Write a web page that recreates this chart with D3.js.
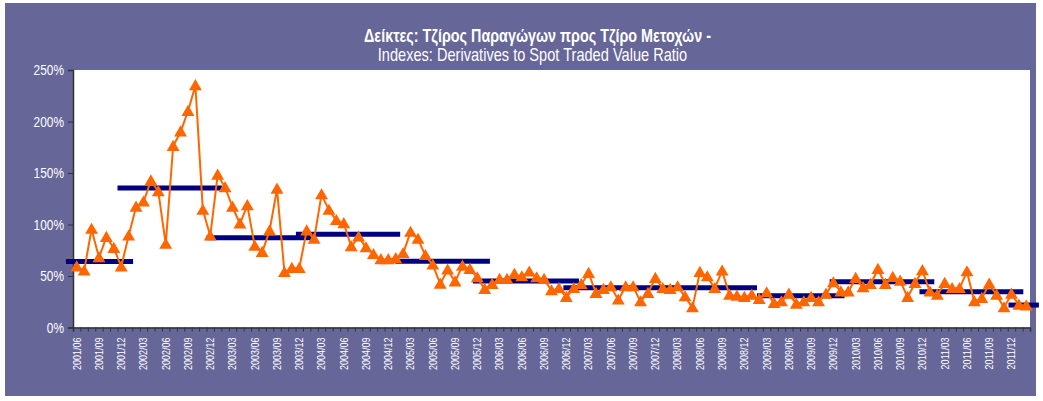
<!DOCTYPE html>
<html>
<head>
<meta charset="utf-8">
<script src="https://cdn.jsdelivr.net/npm/d3@7/dist/d3.min.js"></script>
<style>
  body { margin: 0; background: #fff; }
  svg { display: block; }
</style>
</head>
<body>
<svg id="chart" width="1043" height="401"></svg>
<script>
// monthly ratio, 2001/06 .. 2012/02 (%)
const ratio = [
  59, 55, 95.5, 68, 87.7, 77, 59, 89, 117, 122, 142.5, 132,
  81, 176, 190, 210, 235, 114, 89, 148, 136, 117, 100.7, 118.5,
  79, 73, 94, 134.5, 53.5, 57.6, 57.6, 94, 85.8, 129, 114, 104,
  101, 78.6, 88, 77.6, 71, 66, 66, 67, 72, 92.6, 85.8, 70,
  60.8, 42.3, 56, 44.5, 59.8, 56.6, 48.4, 37.2, 42, 46.9, 46.9, 51.8,
  49.4, 54, 48.4, 46.9, 35.8, 38, 29.4, 38, 42, 52.7, 33.3, 37.2,
  39.7, 26.8, 39.7, 39.7, 25.1, 33.3, 47.9, 38, 37.2, 39.7, 30, 19.3,
  53.6, 49.4, 38, 55, 31.6, 30.6, 29.4, 31.6, 27.4, 33.9, 23.5, 25.1,
  32.5, 22.9, 25.1, 29.4, 25.1, 32.5, 43.6, 34.8, 34.8, 47.9, 38.8, 42,
  56.6, 42, 48.8, 45.2, 29.4, 43, 55.3, 34.8, 31.6, 43, 38, 38,
  54.3, 25.1, 28.4, 42.3, 31.6, 19.3, 32.5, 21.9, 21.2
];

// period averages: start / end in month positions, value in %
const avgStart = [-1.45, 5.5, 17.5, 29.55, 42.95, 53.4, 65.6, 91.7, 101.5, 113.6, 125.6];
const avgEnd   = [7.6, 19.57, 31.7, 43.6, 55.7, 67.7, 91.7, 103.5, 115.6, 127.6, 129.7];
const avgValue = [64, 135.4, 87.2, 90.5, 64.3, 45.2, 38.7, 30.9, 44.3, 34.8, 21.8];

const yTicks = [0, 50, 100, 150, 200, 250];
const titleGr = "Δείκτες: Τζίρος Παραγώγων προς Τζίρο Μετοχών -";
const titleEn = "Indexes: Derivatives to Spot Traded Value Ratio";

const fmtMonth = d3.timeFormat("%Y/%m");
const months = d3.timeMonth.range(new Date(2001, 5, 1), new Date(2012, 2, 1)).map(fmtMonth);

// pick a condensed font if one exists
function hasFont(name) {
  const c = document.createElement("canvas").getContext("2d");
  const s = "2001/06 Indexes abcdefg";
  c.font = "20px monospace";
  const w0 = c.measureText(s).width;
  c.font = `20px "${name}", monospace`;
  return c.measureText(s).width !== w0;
}
const narrow = hasFont("Liberation Sans Narrow");
const fam = narrow ? '"Liberation Sans Narrow", "Arial Narrow", sans-serif' : '"Liberation Sans", Arial, sans-serif';
const squeeze = narrow ? 1 : 0.82;

const W = 1043, H = 401;
const pL = 73, pR = 1030, pT = 70, pB = 327.5;

const svg = d3.select("#chart");
svg.append("rect").attr("x", 5).attr("y", 3).attr("width", 1031).attr("height", 393).attr("fill", "#666699");
svg.append("rect").attr("x", pL).attr("y", pT).attr("width", pR - pL).attr("height", pB - pT).attr("fill", "#fff");

const x = d3.scaleBand().domain(d3.range(ratio.length)).range([pL, pR]).padding(0);
const bw = x.bandwidth();
const xm = d3.scaleLinear().domain([0, ratio.length - 1]).range([x(0) + bw / 2, x(ratio.length - 1) + bw / 2]);
const xb = d3.scaleLinear().domain([0, ratio.length]).range([pL, pR]);
const y = d3.scaleLinear().domain([0, 250]).range([pB, pT]);

// titles
function squeezeText(sel, cx) {
  if (squeeze !== 1) sel.attr("transform", `translate(${cx},0) scale(${squeeze},1) translate(${-cx},0)`);
}
svg.append("text").attr("x", W / 2 + 16).attr("y", 42).attr("text-anchor", "middle")
  .attr("fill", "#fff").attr("font-family", fam).attr("font-size", 17.5).attr("font-weight", "bold")
  .text(titleGr).call(squeezeText, W / 2 + 16);
svg.append("text").attr("x", W / 2 + 11).attr("y", 61).attr("text-anchor", "middle")
  .attr("fill", "#fff").attr("font-family", fam).attr("font-size", 17.8)
  .text(titleEn).call(squeezeText, W / 2 + 11);

// y axis
const gy = svg.append("g").attr("transform", `translate(${pL},0)`)
  .call(d3.axisLeft(y).tickValues(yTicks).tickSize(5).tickFormat(d => d + "%"));
gy.select(".domain").attr("stroke", "#333").attr("stroke-width", 1.5);
gy.selectAll(".tick line").attr("stroke", "#333");
gy.selectAll(".tick text").attr("fill", "#fff").attr("font-family", fam).attr("font-size", 14.5)
  .attr("x", -9)
  .each(function () {
    if (squeeze !== 1) {
      d3.select(this).attr("transform", `translate(-9,0) scale(${squeeze},1) translate(9,0)`);
    }
  });

// x axis tick marks at month boundaries
const gx = svg.append("g").attr("transform", `translate(0,${pB})`)
  .call(d3.axisBottom(xb).tickValues(d3.range(ratio.length + 1)).tickSize(4).tickFormat(""));
gx.select(".domain").attr("stroke", "#333").attr("stroke-width", 1.5);
gx.selectAll(".tick line").attr("stroke", "#333");

// x labels every 3 months
const labelIdx = d3.range(0, ratio.length, 3);
const gl = svg.append("g").attr("transform", `translate(0,${pB})`)
  .call(d3.axisBottom(x).tickValues(labelIdx).tickSize(0).tickFormat(i => months[i]));
gl.select(".domain").remove();
gl.selectAll(".tick text")
  .attr("fill", "#fff").attr("font-family", fam).attr("font-size", 11)
  .attr("text-anchor", "end").attr("dy", "0.35em")
  .attr("transform", `rotate(-90) scale(${squeeze},1)`)
  .attr("x", -10 / squeeze).attr("y", 0);

// period average bars
svg.append("g").selectAll("line").data(avgValue).join("line")
  .attr("x1", (d, i) => xm(avgStart[i])).attr("x2", (d, i) => xm(avgEnd[i]))
  .attr("y1", d => y(d)).attr("y2", d => y(d))
  .attr("stroke", "#000080").attr("stroke-width", 5);

// ratio line + triangle markers
const line = d3.line().x((d, i) => x(i) + bw / 2).y(d => y(d));
svg.append("path").datum(ratio).attr("d", line)
  .attr("fill", "none").attr("stroke", "#FF6600").attr("stroke-width", 2).attr("stroke-linejoin", "round");

const tri = d3.symbol().type(d3.symbolTriangle).size(72);
svg.append("g").selectAll("path").data(ratio).join("path")
  .attr("d", tri)
  .attr("transform", (d, i) => `translate(${x(i) + bw / 2},${y(d) + 1})`)
  .attr("fill", "#FF6600");
</script>
</body>
</html>
